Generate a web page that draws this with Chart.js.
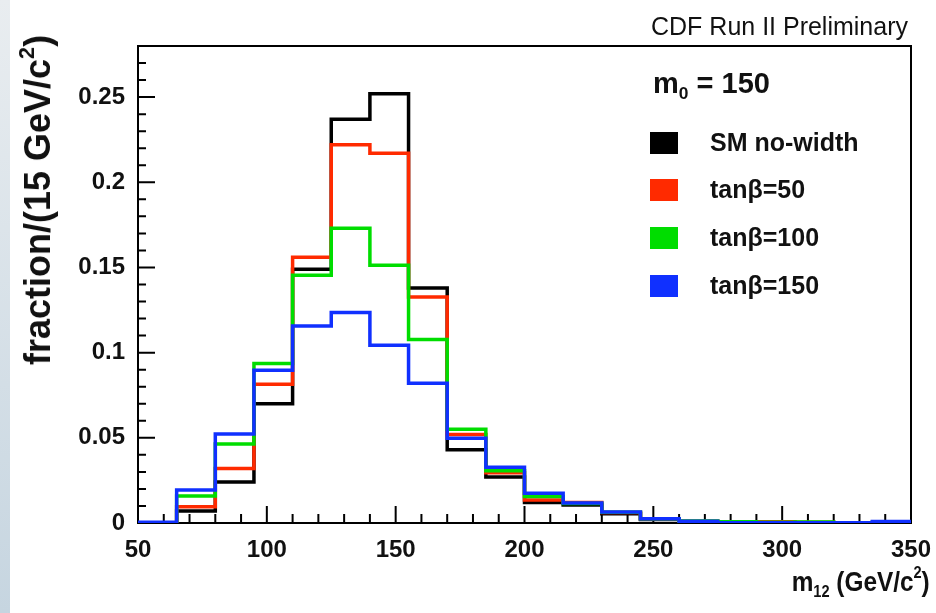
<!DOCTYPE html>
<html><head><meta charset="utf-8">
<script src="https://cdn.jsdelivr.net/npm/chart.js@4/dist/chart.umd.min.js"></script>
<style>
html,body{margin:0;padding:0;background:#fff;}
#wrap{position:relative;width:936px;height:613px;overflow:hidden;font-family:"Liberation Sans",Arial,Helvetica,sans-serif;}
#strip{position:absolute;left:0;top:0;width:10px;height:613px;background:linear-gradient(#e9edf0,#c6d5e0);}
canvas{position:absolute;left:0;top:0;}
.t{position:absolute;white-space:nowrap;color:#111;line-height:1;}
.t sub{font-size:60%;vertical-align:-0.35em;line-height:0;}
.t sup{font-size:60%;vertical-align:0.75em;line-height:0;}
.sq{position:absolute;width:28px;height:22px;}
</style></head><body>
<div id="wrap">
<div id="strip"></div>
<canvas id="c" width="936" height="613"></canvas>
<div class="t" id="cdf" style="right:28px;top:14px;font-size:25px;">CDF Run II Preliminary</div>
<div class="t" id="hdr" style="left:653px;top:69px;font-size:29px;font-weight:bold;">m<sub>0</sub> = 150</div>
<div id="legend"></div>
<div class="t" id="xt" style="right:6px;top:568px;font-size:28px;font-weight:bold;transform:scaleX(0.87);transform-origin:right center;">m<sub>12</sub> (GeV/c<sup>2</sup>)</div>
<div class="t" id="yt" style="left:38px;top:200px;font-size:36px;font-weight:bold;transform:translate(-50%,-50%) rotate(-90deg);">fraction/(15 GeV/c<sup>2</sup>)</div>
</div>
<script>
// ---- data ----
const binLow = [50,65,80,95,110,125,140,155,170,185,200,215,230,245,260,275,290,305,320,335];
const xMaxEdge = 350;
const seriesNames = ["SM no-width","tan\u03b2=50","tan\u03b2=100","tan\u03b2=150"];
const seriesColors = ["#000000","#ff2a00","#00dd00","#1030ff"];
const smNoWidth = [0,0.007,0.024,0.070,0.149,0.237,0.252,0.138,0.043,0.027,0.012,0.0105,0.0055,0.002,0.0005,0.0003,0.0002,0.0002,0.0001,0.0002];
const tanb50   = [0,0.0095,0.032,0.0815,0.156,0.222,0.217,0.1327,0.052,0.0295,0.0135,0.012,0.0062,0.0025,0.001,0.0005,0.0007,0.0004,0.0002,0.0003];
const tanb100  = [0,0.0158,0.0463,0.0937,0.1455,0.173,0.1513,0.1077,0.055,0.0307,0.0156,0.0115,0.0063,0.0025,0.0012,0.0008,0.0004,0.0006,0.0002,0.0004];
const tanb150  = [0.0005,0.0194,0.0522,0.0897,0.1157,0.1236,0.1044,0.082,0.0497,0.0327,0.0175,0.0117,0.0064,0.0025,0.001,0.0001,0.0001,0.0001,0.0001,0.0009];
const xTickLabels = [50,100,150,200,250,300,350];
const yTickLabels = [0,0.05,0.1,0.15,0.2,0.25];

function toSteps(vals){
  const pts = binLow.map((x,i)=>({x:x,y:vals[i]}));
  pts.push({x:xMaxEdge,y:vals[vals.length-1]});
  return pts;
}
const allSeries=[smNoWidth,tanb50,tanb100,tanb150];

// legend (html)
const leg=document.getElementById('legend');
const legY=[143,190,238,286];
seriesNames.forEach((n,i)=>{
  const s=document.createElement('div');s.className='sq';
  s.style.left='650px';s.style.top=(legY[i]-11)+'px';s.style.background=seriesColors[i];
  leg.appendChild(s);
  const t=document.createElement('div');t.className='t';
  t.style.left='710px';t.style.top=(legY[i]-13)+'px';t.style.fontSize='25px';t.style.fontWeight='bold';
  t.textContent=n;leg.appendChild(t);
});

const frameTicks={
  id:'frameTicks',
  beforeDatasetsDraw(chart){
    const {ctx,chartArea:a,scales:{x,y}}=chart;
    ctx.save();
    ctx.strokeStyle='#000';ctx.lineWidth=2;
    ctx.strokeRect(a.left,a.top,a.right-a.left,a.bottom-a.top);
    ctx.beginPath();
    for(let v=50;v<=350;v+=10){
      const px=x.getPixelForValue(v);
      const len=(v%50===0)?17:9;
      ctx.moveTo(px,a.bottom);ctx.lineTo(px,a.bottom-len);
    }
    for(let k=0;k<=28;k++){
      const v=k/100;
      const py=y.getPixelForValue(v);
      const len=(k%5===0)?17:8;
      ctx.moveTo(a.left,py);ctx.lineTo(a.left+len,py);
    }
    ctx.stroke();
    ctx.restore();
  }
};

const order=[4,3,2,1];
new Chart(document.getElementById('c'),{
  type:'line',
  data:{datasets:allSeries.map((vals,i)=>({
    label:seriesNames[i],data:toSteps(vals),borderColor:seriesColors[i],backgroundColor:seriesColors[i],
    borderWidth:3.5,pointRadius:0,stepped:'before',fill:false,order:order[i]
  }))},
  options:{
    responsive:false,animation:false,devicePixelRatio:1,
    layout:{padding:{left:0,right:25,top:46,bottom:0}},
    plugins:{legend:{display:false},tooltip:{enabled:false}},
    scales:{
      x:{type:'linear',min:50,max:350,
        afterBuildTicks:s=>{s.ticks=xTickLabels.map(v=>({value:v}));},
        afterFit:s=>{s.height=90;s.paddingLeft=0;s.paddingRight=0;},
        grid:{display:false,drawTicks:false},border:{display:false},
        ticks:{font:{family:'"Liberation Sans",Arial',size:24,weight:'bold'},color:'#111',padding:13,maxRotation:0,autoSkip:false}},
      y:{type:'linear',min:0,max:0.28,
        afterBuildTicks:s=>{s.ticks=yTickLabels.map(v=>({value:v}));},
        afterFit:s=>{s.width=138;s.paddingTop=0;s.paddingBottom=0;},
        grid:{display:false,drawTicks:false},border:{display:false},
        ticks:{font:{family:'"Liberation Sans",Arial',size:24,weight:'bold'},color:'#111',padding:13,
          callback:v=>String(v)}}
    }
  },
  plugins:[frameTicks]
});
</script>
</body></html>
